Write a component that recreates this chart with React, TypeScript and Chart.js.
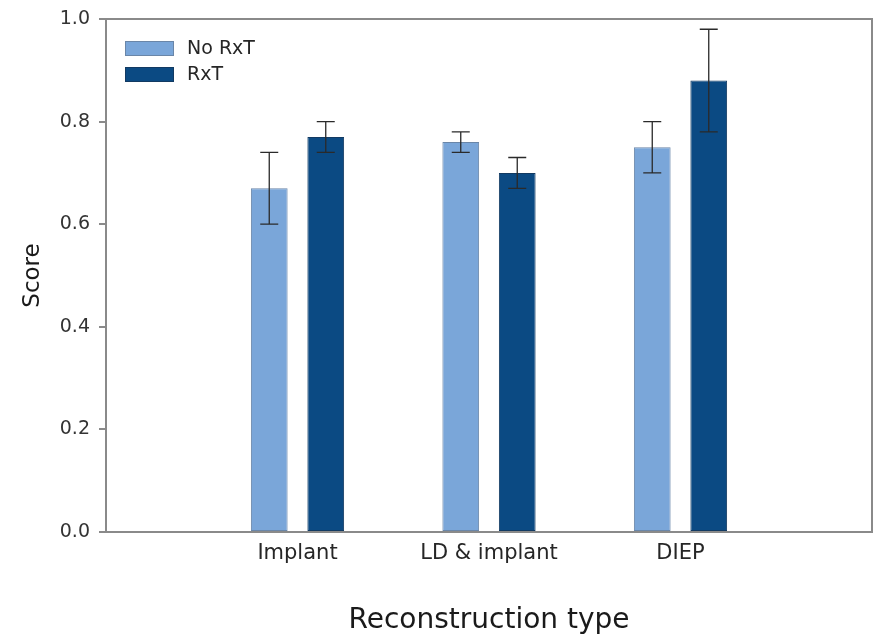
import React, { useEffect, useRef } from "react";
import { Chart, registerables } from "chart.js";

Chart.register(...registerables);

const categories = ["Implant", "LD & implant", "DIEP"];
const seriesNames = ["No RxT", "RxT"];
const noRxtValues = [0.67, 0.76, 0.75];
const rxtValues = [0.77, 0.7, 0.88];
const noRxtErrors = [0.07, 0.02, 0.05];
const rxtErrors = [0.03, 0.03, 0.1];
const yTickValues = [0, 0.2, 0.4, 0.6, 0.8, 1.0];

const FONT = "'DejaVu Sans', 'Liberation Sans', Arial, sans-serif";
const LIGHT = "#7aa6d9";
const DARK = "#0b4a83";

const pad = (arr: (number | null)[]) => [null, ...arr, null];

const errorBarPlugin = {
  id: "errorBars",
  afterDatasetsDraw(chart: any) {
    const ctx = chart.ctx;
    const yScale = chart.scales.y;
    chart.data.datasets.forEach((ds: any, i: number) => {
      const meta = chart.getDatasetMeta(i);
      meta.data.forEach((bar: any, j: number) => {
        const v = ds.data[j];
        const e = ds.errors ? ds.errors[j] : null;
        if (v == null || e == null) return;
        const yTop = yScale.getPixelForValue(v + e);
        const yBot = yScale.getPixelForValue(v - e);
        const x = bar.x;
        const cap = 9;
        ctx.save();
        ctx.strokeStyle = "#2a2a2a";
        ctx.lineWidth = 1.3;
        ctx.beginPath();
        ctx.moveTo(x, yTop);
        ctx.lineTo(x, yBot);
        ctx.moveTo(x - cap, yTop);
        ctx.lineTo(x + cap, yTop);
        ctx.moveTo(x - cap, yBot);
        ctx.lineTo(x + cap, yBot);
        ctx.stroke();
        ctx.restore();
      });
    });
  },
};

const frameAndLegendPlugin = {
  id: "frameLegend",
  afterDraw(chart: any) {
    const ctx = chart.ctx;
    const a = chart.chartArea;
    ctx.save();
    ctx.strokeStyle = "#8a8a8a";
    ctx.lineWidth = 2;
    ctx.beginPath();
    ctx.moveTo(a.left, a.top);
    ctx.lineTo(a.right, a.top);
    ctx.lineTo(a.right, a.bottom);
    ctx.stroke();

    // legend inside plot area, top-left
    const boxW = 49;
    const boxH = 15;
    const x0 = a.left + 19;
    const y0 = a.top + 22;
    const pitch = 26;
    ctx.font = `19px ${FONT}`;
    ctx.textBaseline = "middle";
    ctx.textAlign = "left";
    chart.data.datasets.forEach((ds: any, i: number) => {
      const y = y0 + i * pitch;
      ctx.fillStyle = ds.backgroundColor;
      ctx.fillRect(x0, y, boxW, boxH);
      ctx.strokeStyle = ds.borderColor;
      ctx.lineWidth = 1;
      ctx.strokeRect(x0 + 0.5, y + 0.5, boxW - 1, boxH - 1);
      ctx.fillStyle = "#262626";
      ctx.fillText(ds.label, x0 + boxW + 13, y + boxH / 2 + 1);
    });
    ctx.restore();
  },
};

export default function App() {
  const canvasRef = useRef<HTMLCanvasElement | null>(null);

  useEffect(() => {
    document.body.style.margin = "0";
    const canvas = canvasRef.current;
    if (!canvas) return;
    const chart = new Chart(canvas, {
      type: "bar",
      data: {
        labels: ["", ...categories, ""],
        datasets: [
          {
            label: seriesNames[0],
            data: pad(noRxtValues),
            errors: pad(noRxtErrors),
            backgroundColor: LIGHT,
            borderColor: "#6a86a8",
            borderWidth: 1,
            borderSkipped: false,
            categoryPercentage: 0.59,
            barPercentage: 0.65,
          } as any,
          {
            label: seriesNames[1],
            data: pad(rxtValues),
            errors: pad(rxtErrors),
            backgroundColor: DARK,
            borderColor: "#123a62",
            borderWidth: 1,
            borderSkipped: false,
            categoryPercentage: 0.59,
            barPercentage: 0.65,
          } as any,
        ],
      },
      options: {
        animation: false,
        responsive: true,
        maintainAspectRatio: false,
        layout: { autoPadding: false, padding: { top: 19, right: 2, left: 0, bottom: 0 } },
        plugins: {
          legend: { display: false },
          tooltip: { enabled: false },
        },
        scales: {
          x: {
            type: "category",
            offset: false,
            grid: { display: false, drawTicks: false },
            border: { display: true, color: "#8a8a8a", width: 2 },
            ticks: {
              color: "#262626",
              font: { family: FONT, size: 21 },
              padding: 9,
              autoSkip: false,
              maxRotation: 0,
            },
            title: {
              display: true,
              text: "Reconstruction type",
              color: "#1a1a1a",
              font: { family: FONT, size: 28 },
              padding: { top: 0, bottom: 2 },
            },
            afterFit: (scale: any) => {
              scale.height = 108;
              scale.paddingLeft = 0;
              scale.paddingRight = 0;
            },
          },
          y: {
            type: "linear",
            min: 0,
            max: 1,
            afterBuildTicks: (scale: any) => {
              scale.ticks = yTickValues.map((v) => ({ value: v }));
            },
            grid: {
              display: true,
              drawOnChartArea: false,
              drawTicks: true,
              tickLength: 7,
              color: "#8a8a8a",
              lineWidth: 2,
            },
            border: { display: true, color: "#8a8a8a", width: 2 },
            ticks: {
              color: "#333333",
              font: { family: FONT, size: 19 },
              padding: 9,
              callback: (v: any) => Number(v).toFixed(1),
            },
            title: {
              display: true,
              text: "Score",
              color: "#1a1a1a",
              font: { family: FONT, size: 23 },
              padding: { top: 19, bottom: 0 },
            },
            afterFit: (scale: any) => {
              scale.width = 106;
              scale.paddingTop = 0;
              scale.paddingBottom = 0;
            },
          },
        },
      },
      plugins: [errorBarPlugin, frameAndLegendPlugin],
    });
    return () => chart.destroy();
  }, []);

  return (
    <div style={{ width: 874, height: 640, position: "relative", background: "#ffffff" }}>
      <canvas ref={canvasRef} />
    </div>
  );
}
